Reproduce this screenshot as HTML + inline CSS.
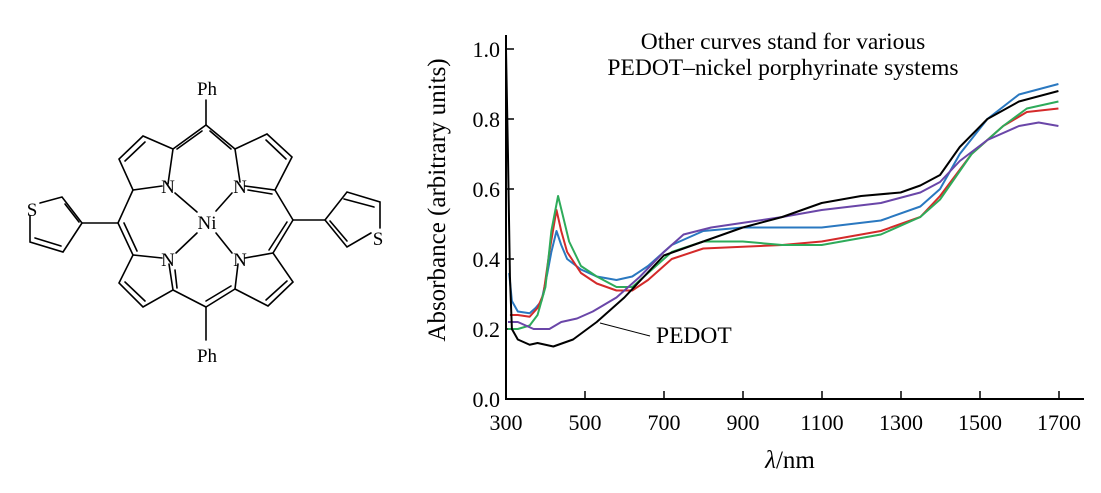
<!DOCTYPE html>
<html><head><meta charset="utf-8"><style>
body{margin:0;background:#fff}
svg{display:block}
text{font-family:"Liberation Serif",serif;fill:#000}
</style></head><body>
<svg width="1101" height="493" viewBox="0 0 1101 493" xmlns="http://www.w3.org/2000/svg">
<g stroke="#000" stroke-width="1.6" fill="none" stroke-linecap="round">
<line x1="206" y1="100" x2="206" y2="125"/>
<line x1="206" y1="125" x2="173" y2="149"/><line x1="206" y1="125" x2="235" y2="149"/>
<line x1="202" y1="131" x2="177" y2="149"/><line x1="210" y1="131" x2="231" y2="149"/>
<polyline points="168,184 173,149 143,136 119,159 133,190 162,186"/>
<line x1="145" y1="142" x2="125" y2="161"/>
<polyline points="245,186 275,190 292,157 267,134 235,149 240,182"/>
<line x1="266" y1="140" x2="286" y2="159"/><line x1="248" y1="190" x2="272" y2="194"/>
<line x1="133" y1="190" x2="118" y2="223"/><line x1="118" y1="223" x2="133" y2="255"/>
<line x1="124" y1="223" x2="137" y2="251"/>
<line x1="118" y1="223" x2="82" y2="223"/>
<line x1="275" y1="190" x2="293" y2="220"/><line x1="293" y1="220" x2="273" y2="253"/>
<line x1="287" y1="222" x2="269" y2="250"/>
<line x1="293" y1="220" x2="325" y2="220"/>
<polyline points="162,258 133,255 119,283 143,307 173,290 169,264"/>
<line x1="125" y1="282" x2="145" y2="301"/><line x1="175" y1="270" x2="177" y2="288"/>
<polyline points="245,258 273,253 293,282 268,306 235,289 238,264"/>
<line x1="287" y1="281" x2="266" y2="300"/>
<line x1="235" y1="289" x2="206" y2="307"/><line x1="173" y1="290" x2="206" y2="307"/>
<line x1="206" y1="301" x2="231" y2="286"/>
<line x1="206" y1="307" x2="206" y2="340"/>
<line x1="175" y1="193" x2="197" y2="212"/><line x1="232" y1="193" x2="216" y2="211"/>
<line x1="176" y1="253" x2="197" y2="233"/><line x1="232" y1="253" x2="216" y2="233"/>
<polyline points="40,203 62,197 82,223 63,252 30,242 30,216"/>
<line x1="65" y1="204" x2="79" y2="222"/><line x1="61" y1="246" x2="35" y2="238"/>
<polyline points="371,233 347,247 325,220 347,192 380,202 380,228"/>
<line x1="344" y1="199" x2="374" y2="207"/><line x1="330" y1="221" x2="347" y2="241"/>
</g>
<g font-size="19" text-anchor="middle">
<text x="207" y="95">Ph</text>
<text x="207" y="362">Ph</text>
<text x="168" y="193">N</text><text x="240" y="193">N</text>
<text x="168" y="266">N</text><text x="240" y="266">N</text>
<text x="207" y="229">Ni</text>
<text x="32" y="216">S</text><text x="378" y="245">S</text>
</g>
<g stroke="#000" stroke-width="2" fill="none">
<polyline points="506,35 506,399 1084,399"/>
</g>
<g stroke="#000" stroke-width="1.5">
<line x1="506" y1="49" x2="514" y2="49"/><line x1="506" y1="119" x2="514" y2="119"/>
<line x1="506" y1="189" x2="514" y2="189"/><line x1="506" y1="259" x2="514" y2="259"/>
<line x1="506" y1="329" x2="514" y2="329"/>
<line x1="585" y1="399" x2="585" y2="391"/><line x1="664" y1="399" x2="664" y2="391"/>
<line x1="743" y1="399" x2="743" y2="391"/><line x1="822" y1="399" x2="822" y2="391"/>
<line x1="901" y1="399" x2="901" y2="391"/><line x1="980" y1="399" x2="980" y2="391"/>
<line x1="1059" y1="399" x2="1059" y2="391"/>
</g>
<g font-size="22" text-anchor="end">
<text x="500" y="57">1.0</text><text x="500" y="127">0.8</text><text x="500" y="197">0.6</text>
<text x="500" y="267">0.4</text><text x="500" y="337">0.2</text><text x="500" y="407">0.0</text>
</g>
<g font-size="22" text-anchor="middle">
<text x="506" y="430">300</text><text x="585" y="430">500</text><text x="664" y="430">700</text>
<text x="743" y="430">900</text><text x="822" y="430">1100</text><text x="901" y="430">1300</text>
<text x="980" y="430">1500</text><text x="1059" y="430">1700</text>
</g>
<text x="790" y="468" font-size="25" text-anchor="middle"><tspan font-style="italic">λ</tspan>/nm</text>
<text transform="translate(445,200) rotate(-90)" font-size="25" text-anchor="middle">Absorbance (arbitrary units)</text>
<text x="783" y="49" font-size="23.5" text-anchor="middle">Other curves stand for various</text>
<text x="783" y="75" font-size="23.5" text-anchor="middle">PEDOT–nickel porphyrinate systems</text>
<text x="656" y="343" font-size="23.5">PEDOT</text>
<line x1="600" y1="323" x2="650" y2="336" stroke="#000" stroke-width="1"/>
<g transform="translate(387.6,399) scale(0.3946,-350)" fill="none" stroke-width="2" stroke-linejoin="round">
<polyline vector-effect="non-scaling-stroke" stroke="#2a78c0" points="308,0.36 315,0.28 330,0.25 360,0.245 375,0.26 390,0.28 405,0.36 415,0.42 428,0.48 440,0.44 455,0.40 490,0.37 530,0.35 580,0.34 620,0.35 660,0.38 720,0.44 800,0.48 850,0.485 900,0.49 1000,0.49 1100,0.49 1250,0.51 1350,0.55 1400,0.60 1450,0.70 1520,0.80 1600,0.87 1700,0.90"/>
<polyline vector-effect="non-scaling-stroke" stroke="#d42a2a" points="310,0.24 330,0.24 360,0.235 380,0.26 395,0.30 410,0.42 428,0.54 440,0.48 455,0.42 490,0.36 530,0.33 580,0.31 620,0.31 660,0.34 720,0.40 800,0.43 900,0.435 1000,0.44 1100,0.45 1250,0.48 1350,0.52 1400,0.58 1480,0.70 1560,0.78 1620,0.82 1700,0.83"/>
<polyline vector-effect="non-scaling-stroke" stroke="#2eab5a" points="305,0.20 330,0.20 360,0.21 380,0.24 400,0.32 415,0.48 432,0.58 445,0.52 460,0.45 490,0.38 530,0.35 580,0.32 620,0.32 660,0.36 720,0.42 800,0.45 900,0.45 1000,0.44 1100,0.44 1250,0.47 1350,0.52 1400,0.57 1480,0.70 1560,0.78 1620,0.83 1700,0.85"/>
<polyline vector-effect="non-scaling-stroke" stroke="#6a46a8" points="305,0.22 330,0.22 370,0.20 410,0.20 440,0.22 480,0.23 520,0.25 580,0.29 640,0.35 700,0.42 750,0.47 820,0.49 880,0.50 1000,0.52 1100,0.54 1250,0.56 1350,0.59 1400,0.62 1450,0.68 1520,0.74 1600,0.78 1650,0.79 1700,0.78"/>
<polyline vector-effect="non-scaling-stroke" stroke="#000" points="300,1.0 305,0.70 310,0.35 315,0.20 330,0.17 360,0.155 380,0.16 420,0.15 470,0.17 530,0.22 600,0.29 650,0.35 700,0.41 800,0.45 850,0.47 900,0.49 1000,0.52 1100,0.56 1200,0.58 1300,0.59 1350,0.61 1400,0.64 1450,0.72 1520,0.80 1600,0.85 1700,0.88"/>
</g>
</svg>
</body></html>
